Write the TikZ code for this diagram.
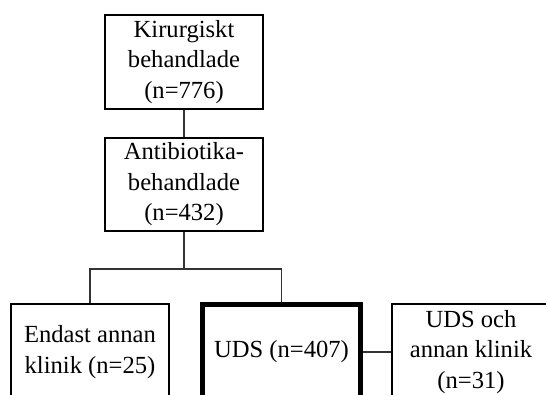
\documentclass[tikz,border=0pt]{standalone}
\usepackage{fontspec}
\setmainfont{Liberation Serif}
\begin{document}
\begin{tikzpicture}[x=1pt,y=-1pt,
  box/.style={draw=black,line width=2.3pt,rectangle,align=center,inner sep=0pt,
    minimum width=158pt,font=\fontsize{24.6}{30.5}\selectfont},
  conn/.style={draw=black!80,line width=1.3pt}]
\useasboundingbox (0,0) rectangle (546,394);
\clip (0,0) rectangle (546,394);
\node[box,minimum height=94pt] (kir) at (184,62) {Kirurgiskt\\behandlade\\(n=776)};
\node[box,minimum height=93pt] (ant) at (184,184.5) {Antibiotika-\\behandlade\\(n=432)};
\node[box,minimum height=96pt] (end) at (90,352) {Endast annan\\klinik (n=25)};
\node[box,line width=5pt,minimum height=96pt] (uds) at (281.5,352) {UDS (n=407)};
\node[box,minimum height=96pt] (oth) at (471,352) {UDS och\\annan klinik\\(n=31)};
\coordinate (j) at (184,269);
\draw[conn] (kir.south) -- (ant.north);
\draw[conn] (ant.south) -- (j);
\draw[conn] (end.north) |- (j) -| (uds.north);
\draw[conn] (uds.east) -- (oth.west);
\end{tikzpicture}
\end{document}
